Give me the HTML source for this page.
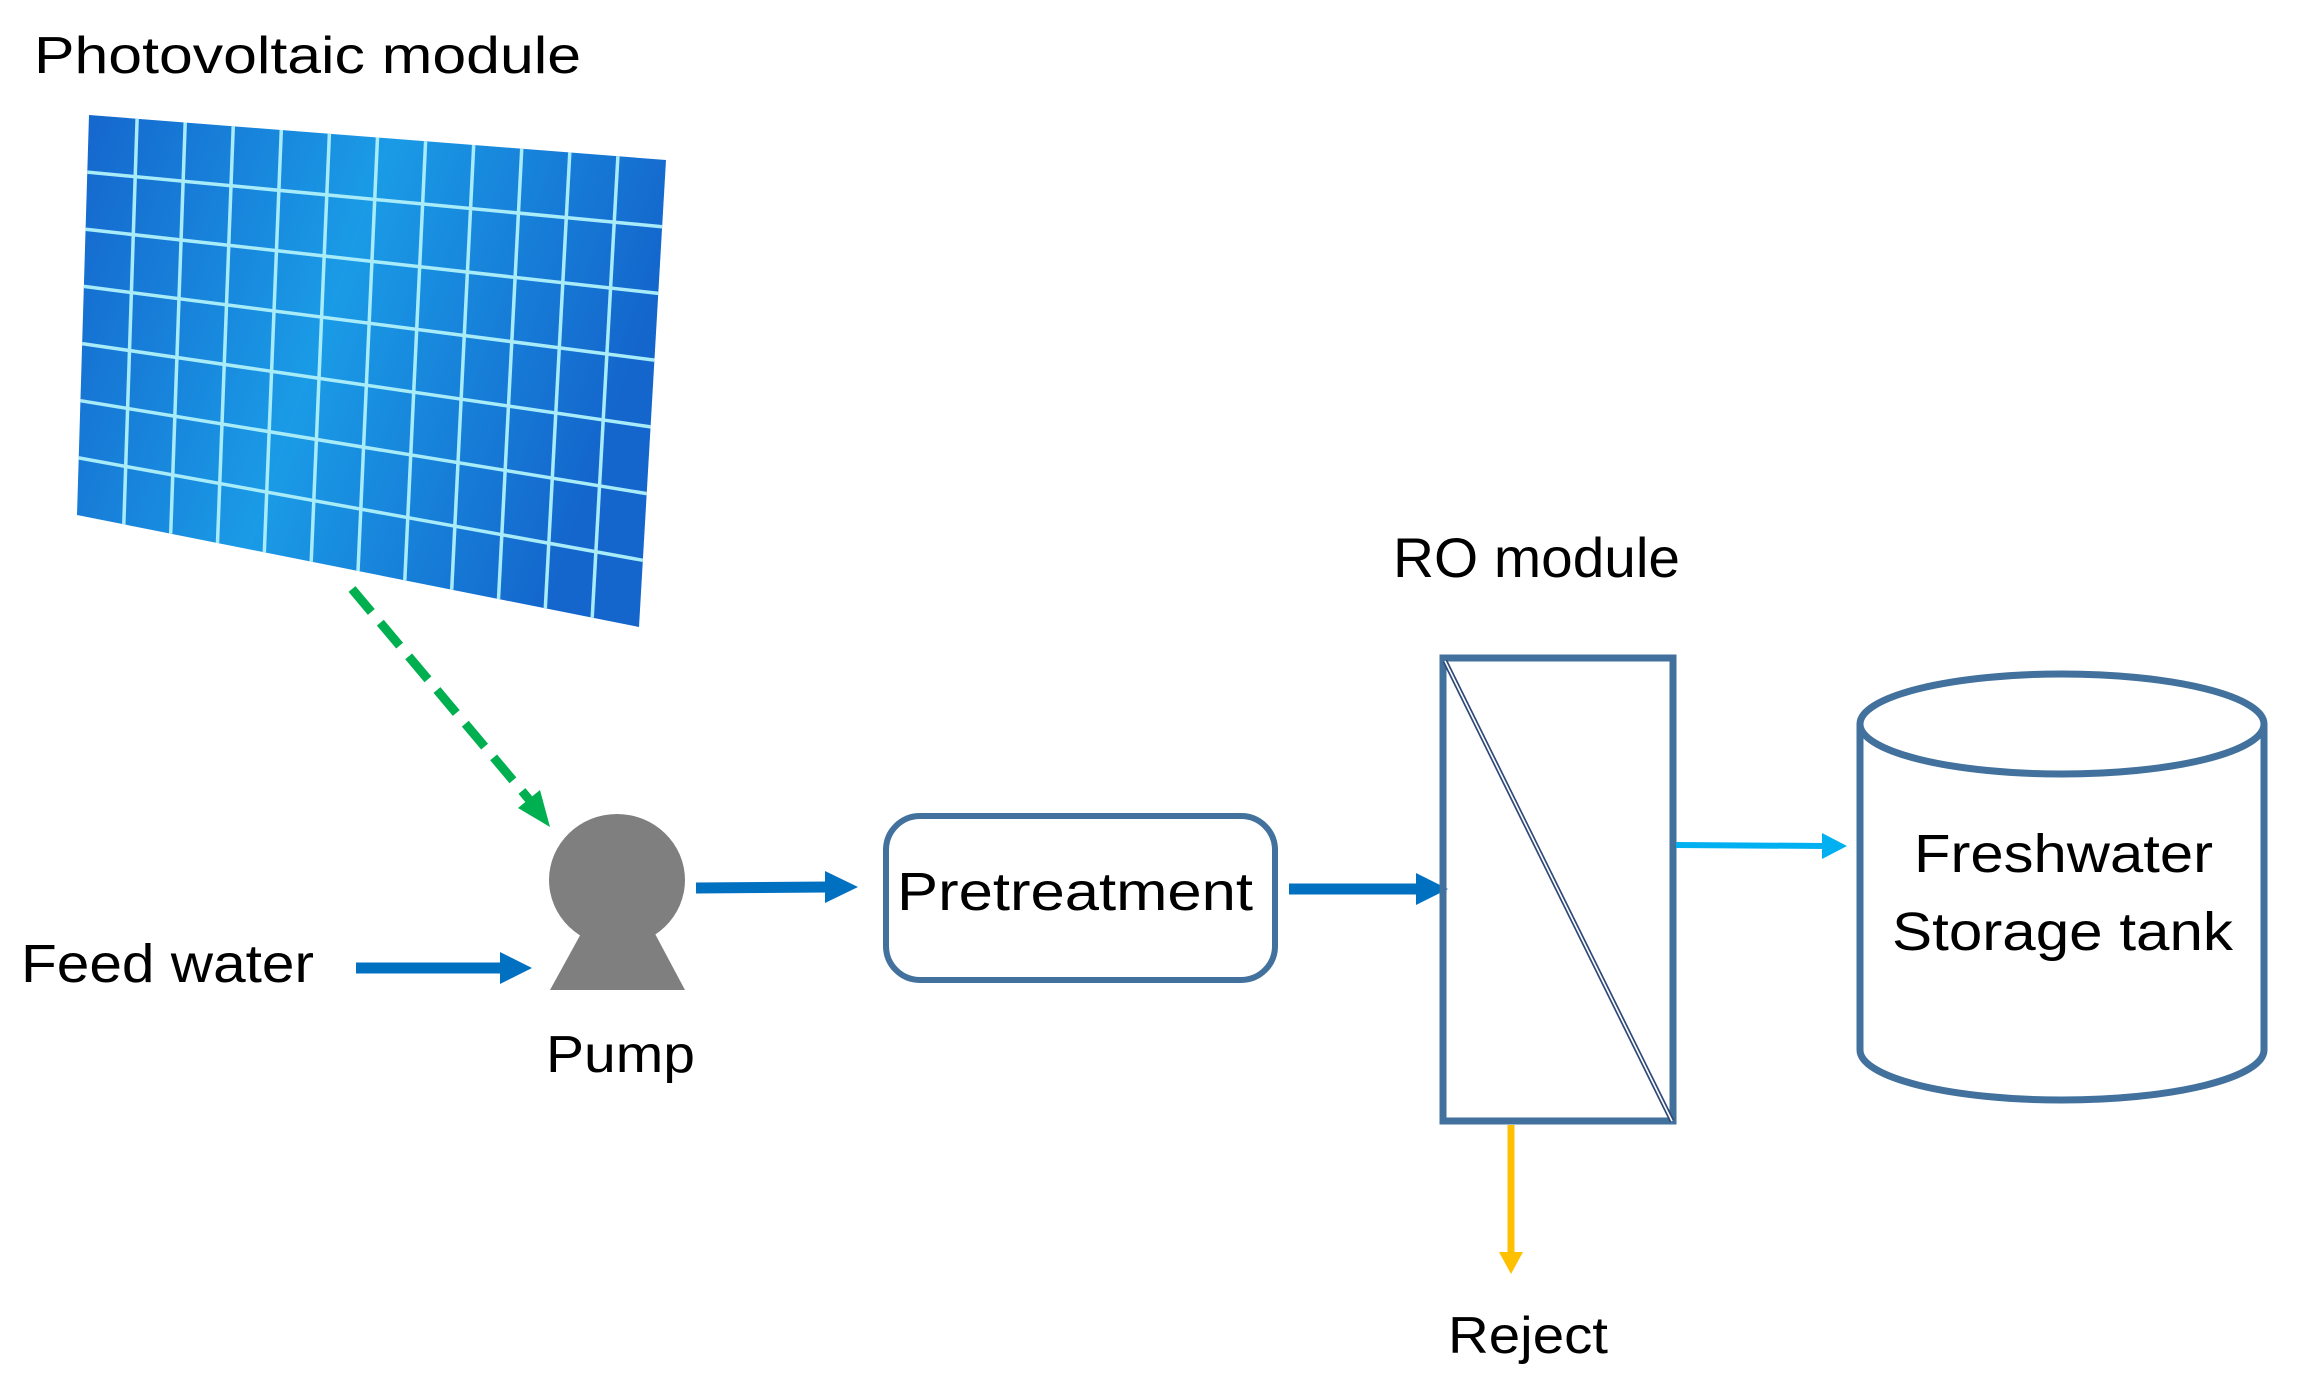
<!DOCTYPE html>
<html><head><meta charset="utf-8"><style>
html,body{margin:0;padding:0;background:#fff;}
svg{display:block;}
text{font-family:"Liberation Sans",sans-serif;fill:#000;}
</style></head><body>
<svg width="2297" height="1391" viewBox="0 0 2297 1391" xmlns="http://www.w3.org/2000/svg">
<defs>
<linearGradient id="pv" x1="0" y1="0" x2="1" y2="0.3">
<stop offset="0" stop-color="#1565cc"/>
<stop offset="0.5" stop-color="#1a9be6"/>
<stop offset="1" stop-color="#1466cc"/>
</linearGradient>
</defs>
<text x="34" y="73" font-size="52" textLength="547" lengthAdjust="spacingAndGlyphs">Photovoltaic module</text>
<polygon points="89,115 666,160 639,627 77,515" fill="url(#pv)"/>
<g stroke="#a8ecfa" stroke-width="3.5" fill="none">
<line x1="137.1" y1="118.75" x2="123.8" y2="524.3"/>
<line x1="185.2" y1="122.5" x2="170.7" y2="533.7"/>
<line x1="233.25" y1="126.25" x2="217.5" y2="543"/>
<line x1="281.3" y1="130" x2="264.3" y2="552.3"/>
<line x1="329.4" y1="133.75" x2="311.2" y2="561.7"/>
<line x1="377.5" y1="137.5" x2="358" y2="571"/>
<line x1="425.6" y1="141.25" x2="404.8" y2="580.3"/>
<line x1="473.7" y1="145" x2="451.7" y2="589.7"/>
<line x1="521.75" y1="148.75" x2="498.5" y2="599"/>
<line x1="569.8" y1="152.5" x2="545.3" y2="608.3"/>
<line x1="617.9" y1="156.25" x2="592.2" y2="617.7"/>
<line x1="87.3" y1="172.1" x2="662.1" y2="226.7"/>
<line x1="85.6" y1="229.3" x2="658.3" y2="293.4"/>
<line x1="83.9" y1="286.4" x2="654.4" y2="360.1"/>
<line x1="82.1" y1="343.6" x2="650.6" y2="426.9"/>
<line x1="80.4" y1="400.7" x2="646.7" y2="493.6"/>
<line x1="78.7" y1="457.9" x2="642.9" y2="560.3"/>
</g>
<!-- green dashed arrow -->
<line x1="352" y1="589" x2="532" y2="803" stroke="#00b050" stroke-width="9" stroke-dasharray="30,14"/>
<polygon points="550,827 518,808 540,790" fill="#00b050"/>
<!-- pump -->
<ellipse cx="617" cy="880" rx="68" ry="66" fill="#7f7f7f"/>
<polygon points="583,930 653,930 685,990 550,990" fill="#7f7f7f"/>
<text x="546" y="1072" font-size="52" textLength="149" lengthAdjust="spacingAndGlyphs">Pump</text>
<!-- feed water -->
<text x="21" y="982" font-size="54" textLength="293" lengthAdjust="spacingAndGlyphs">Feed water</text>
<line x1="356" y1="968" x2="505" y2="968" stroke="#0070c0" stroke-width="11"/>
<polygon points="500,952 532,968 500,984" fill="#0070c0"/>
<!-- pump -> pretreatment -->
<line x1="696" y1="888" x2="828" y2="887" stroke="#0070c0" stroke-width="11"/>
<polygon points="825,871 858,887 825,903" fill="#0070c0"/>
<!-- pretreatment -->
<rect x="886" y="816" width="389" height="164" rx="34" fill="#fff" stroke="#41719c" stroke-width="6"/>
<text x="897" y="910" font-size="54" textLength="356" lengthAdjust="spacingAndGlyphs">Pretreatment</text>
<!-- pre -> RO -->
<line x1="1289" y1="889" x2="1420" y2="889" stroke="#0070c0" stroke-width="11"/>
<polygon points="1416,873 1448,889 1416,905" fill="#0070c0"/>
<!-- RO -->
<text x="1393" y="577" font-size="56" textLength="287" lengthAdjust="spacingAndGlyphs">RO module</text>
<rect x="1443" y="658" width="230" height="463" fill="none" stroke="#41719c" stroke-width="7"/>
<line x1="1445" y1="661" x2="1672" y2="1121" stroke="#2f4a78" stroke-width="5"/>
<line x1="1445" y1="661" x2="1672" y2="1121" stroke="#fff" stroke-width="1.6"/>
<!-- light blue arrow -->
<line x1="1676" y1="845" x2="1825" y2="846" stroke="#00b0f0" stroke-width="6"/>
<polygon points="1822,833 1847,846 1822,859" fill="#00b0f0"/>
<!-- tank -->
<path d="M1860,724 L1860,1050 A202,50 0 0 0 2264,1050 L2264,724" fill="#fff" stroke="#41719c" stroke-width="7"/>
<ellipse cx="2062" cy="724" rx="202" ry="50" fill="#fff" stroke="#41719c" stroke-width="7"/>
<text x="1914" y="872" font-size="54" textLength="299" lengthAdjust="spacingAndGlyphs">Freshwater</text>
<text x="1892" y="950" font-size="54" textLength="341" lengthAdjust="spacingAndGlyphs">Storage tank</text>
<!-- reject -->
<line x1="1511" y1="1125" x2="1511" y2="1256" stroke="#ffc000" stroke-width="7"/>
<polygon points="1499,1252 1523,1252 1511,1274" fill="#ffc000"/>
<text x="1448" y="1353" font-size="52" textLength="160" lengthAdjust="spacingAndGlyphs">Reject</text>
</svg>
</body></html>
